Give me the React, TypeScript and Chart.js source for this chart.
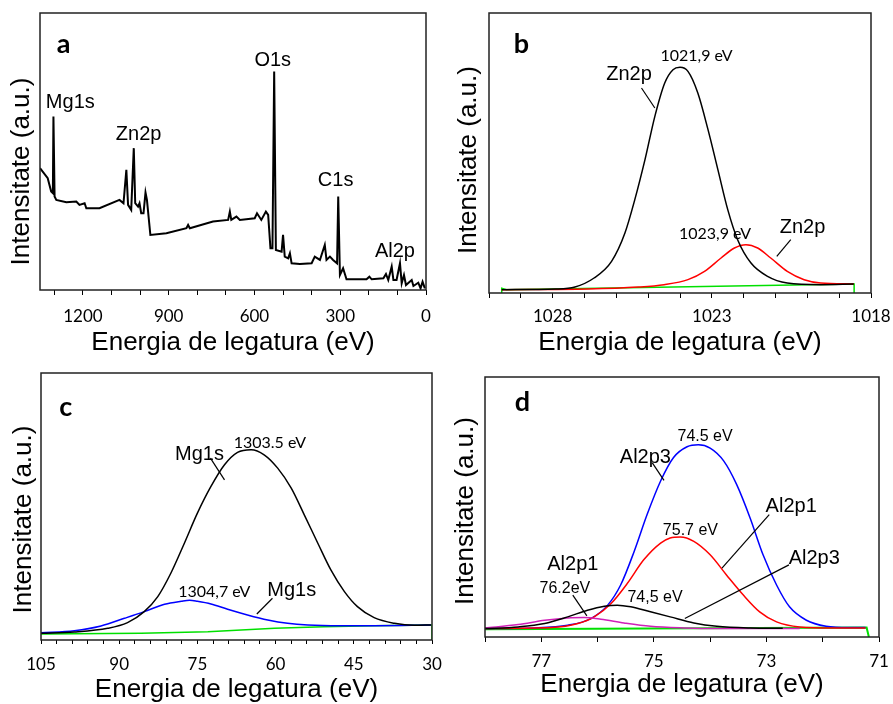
import React, { useEffect, useRef } from 'react';
import { Chart, registerables } from 'chart.js';

Chart.register(...registerables);

const SANS = '"Liberation Sans", Arial, sans-serif';
const CAL = 'Lato, "Open Sans", sans-serif';
const X_TITLE = 'Energia de legatura (eV)';
const Y_TITLE = 'Intensitate (a.u.)';

// ---------- Panel a : survey spectrum ----------
const aEnergy = [1350, 1323, 1311, 1305, 1303, 1299, 1293, 1258, 1223, 1212, 1194, 1188, 1142, 1072, 1058, 1048, 1042, 1031, 1022, 1017, 1007, 1002, 996, 988, 981, 976, 964, 908, 838, 832, 826, 745, 692, 686, 681, 663, 651, 599, 591, 576, 560, 552, 544, 537, 531, 525, 505, 500, 494, 482, 476, 470, 441, 400, 389, 371, 354, 348, 336, 325, 311, 307, 301, 290, 278, 208, 198, 190, 149, 140, 132, 120, 114, 103, 91, 85, 77, 70, 50, 44, 27, 19, 12, 4];
const aIntensity = [365, 335, 295, 290, 520, 280, 270, 263, 265, 255, 260, 245, 245, 270, 260, 360, 255, 240, 425, 260, 250, 260, 230, 230, 292, 270, 165, 170, 185, 195, 185, 205, 210, 235, 210, 220, 210, 215, 230, 210, 235, 225, 125, 125, 655, 120, 115, 165, 100, 95, 110, 80, 78, 80, 100, 90, 135, 90, 100, 90, 80, 280, 45, 65, 32, 32, 40, 32, 35, 48, 30, 70, 30, 30, 80, 20, 45, 15, 30, 12, 22, 5, 25, 5];
const aTicks = [0, 100, 200, 300, 400, 500, 600, 700, 800, 900, 1000, 1100, 1200, 1300];
const aTickLabels = [0, 300, 600, 900, 1200];

// ---------- Panel b : Zn2p ----------
const bBlackEnergy = [1029.6, 1027.9, 1027.3, 1026.7, 1026.15, 1025.73, 1025.42, 1025.1, 1024.79, 1024.48, 1024.22, 1024.0, 1023.75, 1023.44, 1023.12, 1022.81, 1022.5, 1022.19, 1021.77, 1021.25, 1020.63, 1019.58, 1018.54];
const bBlackIntensity = [10, 12, 18, 45, 95, 180, 280, 400, 530, 630, 670, 677, 665, 600, 490, 370, 250, 160, 90, 50, 30, 25, 27];
const bRedEnergy = [1029.6, 1026.9, 1025.3, 1024.5, 1023.75, 1023.23, 1022.71, 1022.29, 1021.93, 1021.56, 1021.15, 1020.63, 1020.1, 1019.58, 1018.54];
const bRedIntensity = [10, 12, 18, 25, 40, 65, 105, 135, 145, 135, 105, 65, 40, 30, 27];
const bGreenEnergy = [1029.6, 1029.6, 1029.45, 1018.53, 1018.53];
const bGreenIntensity = [0, 14, 10, 27, 0];
const bTicks = [1018, 1019, 1020, 1021, 1022, 1023, 1024, 1025, 1026, 1027, 1028, 1029, 1030];
const bTickLabels = [1018, 1023, 1028];

// ---------- Panel c : Mg1s ----------
const cBlackEnergy = [105, 98.6, 92.2, 88.4, 85.2, 82.6, 80.1, 77.5, 75.0, 72.4, 69.8, 67.3, 64.7, 62.2, 59.6, 57.0, 54.5, 51.9, 49.4, 46.8, 44.3, 41.1, 37.2, 33.4, 30.2];
const cBlackIntensity = [20, 24, 35, 52, 85, 130, 200, 290, 380, 460, 525, 562, 570, 555, 515, 455, 375, 290, 210, 145, 100, 67, 50, 44, 45];
const cBlueEnergy = [105, 98.6, 93.5, 89.0, 85.2, 81.3, 78.1, 76.5, 75.0, 72.4, 69.2, 65.4, 61.5, 57.7, 53.8, 47.5, 41.1, 30.2];
const cBlueIntensity = [22, 28, 42, 65, 85, 107, 116, 119, 116, 108, 92, 75, 60, 50, 45, 43, 43, 45];
const cGreenEnergy = [105, 85.8, 73.0, 60.2, 50.7, 41.1, 30.2, 30, 30];
const cGreenIntensity = [18, 20, 25, 35, 40, 43, 45, 45, 0];
const cTicks = [30, 33, 36, 39, 42, 45, 48, 51, 54, 57, 60, 63, 66, 69, 72, 75, 78, 81, 84, 87, 90, 93, 96, 99, 102, 105];
const cTickLabels = [30, 45, 60, 75, 90, 105];

// ---------- Panel d : Al2p ----------
const dBlueEnergy = [78, 77.12, 76.53, 76.12, 75.82, 75.59, 75.35, 75.12, 74.88, 74.65, 74.41, 74.21, 74.0, 73.76, 73.53, 73.29, 73.06, 72.82, 72.59, 72.29, 71.94, 71.53, 71.24];
const dBlueIntensity = [25, 27, 35, 55, 95, 155, 255, 365, 465, 535, 567, 573, 563, 525, 455, 355, 245, 155, 90, 50, 32, 28, 28];
const dRedEnergy = [78, 76.82, 76.35, 76.06, 75.76, 75.47, 75.18, 74.88, 74.71, 74.53, 74.29, 74.0, 73.71, 73.41, 73.12, 72.82, 72.41, 71.82, 71.24];
const dRedIntensity = [25, 28, 40, 60, 100, 160, 230, 280, 295, 298, 285, 245, 185, 125, 75, 45, 30, 27, 27];
const dBlackEnergy = [78, 77.41, 76.94, 76.53, 76.18, 75.88, 75.65, 75.41, 75.06, 74.71, 74.29, 73.88, 73.29, 72.71];
const dBlackIntensity = [25, 30, 40, 60, 80, 92, 95, 90, 75, 60, 42, 32, 27, 26];
const dMagentaEnergy = [78, 77.41, 76.94, 76.53, 76.24, 75.94, 75.53, 75.06, 74.47, 73.88, 72.41];
const dMagentaIntensity = [27, 37, 50, 57, 58, 53, 42, 32, 27, 25, 25];
const dGreenEnergy = [78, 71.22, 71.18];
const dGreenIntensity = [23, 28, 0];
const dTicks = [71, 72, 73, 74, 75, 76, 77, 78];
const dTickLabels = [71, 73, 75, 77];

type Series = { e: number[]; i: number[]; color: string; width: number; smooth: boolean };
type Label = { t: string; e: number; i: number; font: string; align?: CanvasTextAlign };
type Panel = {
  key: string;
  left: number; top: number; width: number; height: number;
  area: { l: number; t: number; r: number; b: number };
  xMin: number; xMax: number; yMax: number;
  ticks: number[]; labelled: number[];
  tickLen: number; tickPad: number; titlePad: number;
  series: Series[];
  labels: Label[];
  leaders: number[][];
  yTitle: { x: number; dy: number };
};

const EL = `20px ${SANS}`;
const EVC = `16px ${CAL}`;
const EVA = `16px ${SANS}`;
const LET = `bold 27px ${CAL}`;

const panels: Panel[] = [
  {
    key: 'a', left: 0, top: 0, width: 446, height: 360,
    area: { l: 40, t: 13, r: 426, b: 290 },
    xMin: 0, xMax: 1350, yMax: 830,
    ticks: aTicks, labelled: aTickLabels, tickLen: 5, tickPad: 11, titlePad: 4,
    series: [{ e: aEnergy, i: aIntensity, color: '#000', width: 2, smooth: false }],
    labels: [
      { t: 'a', e: 1291, i: 710, font: LET, align: 'left' },
      { t: 'Mg1s', e: 1244, i: 545, font: EL },
      { t: 'Zn2p', e: 1005, i: 450, font: EL },
      { t: 'O1s', e: 536, i: 672, font: EL },
      { t: 'C1s', e: 316, i: 313, font: EL },
      { t: 'Al2p', e: 108.6, i: 100, font: EL },
    ],
    leaders: [],
    yTitle: { x: 22, dy: 20 },
  },
  {
    key: 'b', left: 446, top: 0, width: 447, height: 360,
    area: { l: 43, t: 13, r: 425, b: 293 },
    xMin: 1018, xMax: 1030, yMax: 840,
    ticks: bTicks, labelled: bTickLabels, tickLen: 5, tickPad: 8, titlePad: 4,
    series: [
      { e: bBlackEnergy, i: bBlackIntensity, color: '#000', width: 1.5, smooth: true },
      { e: bRedEnergy, i: bRedIntensity, color: '#ff0000', width: 1.5, smooth: true },
      { e: bGreenEnergy, i: bGreenIntensity, color: '#00e000', width: 1.5, smooth: false },
    ],
    labels: [
      { t: 'b', e: 1029.22, i: 720, font: LET, align: 'left' },
      { t: '1021,9 eV', e: 1023.48, i: 695, font: EVC },
      { t: 'Zn2p', e: 1025.6, i: 640, font: EL },
      { t: '1023,9 eV', e: 1022.9, i: 163, font: EVC },
      { t: 'Zn2p', e: 1020.15, i: 180, font: EL },
    ],
    leaders: [[1025.21, 615, 1024.79, 555], [1020.52, 160, 1020.96, 110]],
    yTitle: { x: 23, dy: 7 },
  },
  {
    key: 'c', left: 0, top: 360, width: 446, height: 344,
    area: { l: 41, t: 13, r: 432, b: 280 },
    xMin: 30, xMax: 105, yMax: 800,
    ticks: cTicks, labelled: cTickLabels, tickLen: 4, tickPad: 10, titlePad: 1,
    series: [
      { e: cBlackEnergy, i: cBlackIntensity, color: '#000', width: 1.5, smooth: true },
      { e: cBlueEnergy, i: cBlueIntensity, color: '#0000ff', width: 1.5, smooth: true },
      { e: cGreenEnergy, i: cGreenIntensity, color: '#00e000', width: 1.5, smooth: false },
    ],
    labels: [
      { t: 'c', e: 101.48, i: 670, font: LET, align: 'left' },
      { t: 'Mg1s', e: 74.6, i: 538, font: EL },
      { t: '1303.5 eV', e: 61.1, i: 574, font: EVC },
      { t: '1304,7 eV', e: 71.75, i: 128, font: EVC },
      { t: 'Mg1s', e: 56.9, i: 133, font: EL },
    ],
    leaders: [[72.5, 545, 69.8, 480], [60.6, 125, 63.6, 78]],
    yTitle: { x: 24, dy: 13 },
  },
  {
    key: 'd', left: 446, top: 360, width: 447, height: 344,
    area: { l: 39, t: 17, r: 433, b: 277 },
    xMin: 71, xMax: 78, yMax: 775,
    ticks: dTicks, labelled: dTickLabels, tickLen: 5, tickPad: 9, titlePad: 6,
    series: [
      { e: dBlackEnergy, i: dBlackIntensity, color: '#000', width: 1.5, smooth: true },
      { e: dMagentaEnergy, i: dMagentaIntensity, color: '#d020b8', width: 1.5, smooth: true },
      { e: dRedEnergy, i: dRedIntensity, color: '#ff0000', width: 1.5, smooth: true },
      { e: dBlueEnergy, i: dBlueIntensity, color: '#0000ff', width: 1.5, smooth: true },
      { e: dGreenEnergy, i: dGreenIntensity, color: '#00e000', width: 2, smooth: false },
    ],
    labels: [
      { t: 'd', e: 77.47, i: 675, font: LET, align: 'left' },
      { t: '74.5 eV', e: 74.09, i: 583, font: EVA },
      { t: 'Al2p3', e: 75.15, i: 520, font: EL },
      { t: 'Al2p1', e: 72.56, i: 373, font: EL },
      { t: '75.7 eV', e: 74.35, i: 305, font: EVA },
      { t: 'Al2p3', e: 72.15, i: 218, font: EL },
      { t: 'Al2p1', e: 76.44, i: 200, font: EL },
      { t: '76.2eV', e: 76.58, i: 132, font: EVA },
      { t: '74,5 eV', e: 74.98, i: 103, font: EVA },
    ],
    leaders: [[75.03, 520, 74.82, 467], [72.95, 365, 73.79, 205], [72.6, 215, 74.45, 55], [76.44, 125, 76.19, 63]],
    yTitle: { x: 20, dy: 4 },
  },
];

function overlay(p: Panel) {
  return {
    id: 'overlay_' + p.key,
    afterDraw(chart: any) {
      const ctx = chart.ctx as CanvasRenderingContext2D;
      const a = chart.chartArea;
      const xs = chart.scales.x;
      const ys = chart.scales.y;
      ctx.save();
      // frame
      ctx.strokeStyle = '#222';
      ctx.lineWidth = 1.5;
      ctx.strokeRect(a.left, a.top, a.right - a.left, a.bottom - a.top);
      // leaders
      ctx.strokeStyle = '#000';
      ctx.lineWidth = 1.2;
      for (const [e1, i1, e2, i2] of p.leaders) {
        ctx.beginPath();
        ctx.moveTo(xs.getPixelForValue(e1), ys.getPixelForValue(i1));
        ctx.lineTo(xs.getPixelForValue(e2), ys.getPixelForValue(i2));
        ctx.stroke();
      }
      // labels
      ctx.fillStyle = '#000';
      ctx.textBaseline = 'alphabetic';
      for (const l of p.labels) {
        ctx.font = l.font;
        ctx.textAlign = l.align || 'center';
        ctx.fillText(l.t, xs.getPixelForValue(l.e), ys.getPixelForValue(l.i));
      }
      // y title
      ctx.font = `26px ${SANS}`;
      ctx.textAlign = 'center';
      ctx.textBaseline = 'middle';
      ctx.translate(p.yTitle.x, (a.top + a.bottom) / 2 + p.yTitle.dy);
      ctx.rotate(-Math.PI / 2);
      ctx.fillText(Y_TITLE, 0, 0);
      ctx.restore();
    },
  };
}

function PanelChart({ p }: { p: Panel }) {
  const ref = useRef<HTMLCanvasElement>(null);
  useEffect(() => {
    if (!ref.current) return;
    const datasets = p.series.map((s) => ({
      data: s.e.map((x, k) => ({ x, y: s.i[k] })),
      borderColor: s.color,
      borderWidth: s.width,
      pointRadius: 0,
      fill: false,
      tension: 0,
      cubicInterpolationMode: s.smooth ? 'monotone' : 'default',
    }));
    const chart = new Chart(ref.current, {
      type: 'line',
      data: { datasets } as any,
      options: {
        animation: false,
        responsive: false,
        events: [],
        layout: { padding: { left: 0, top: p.area.t, right: p.width - p.area.r, bottom: 0 } },
        plugins: { legend: { display: false }, tooltip: { enabled: false } },
        scales: {
          x: {
            type: 'linear',
            min: p.xMin,
            max: p.xMax,
            reverse: true,
            afterBuildTicks: (s: any) => { s.ticks = p.ticks.map((v) => ({ value: v })); },
            afterFit: (s: any) => { s.height = p.height - p.area.b; },
            grid: { display: true, drawOnChartArea: false, drawTicks: true, tickLength: p.tickLen, color: '#000', lineWidth: 1 },
            border: { display: false },
            ticks: {
              autoSkip: false, maxRotation: 0, minRotation: 0, padding: p.tickPad, color: '#000',
              font: { family: CAL, size: 17 },
              callback: (v: any) => (p.labelled.includes(Number(v)) ? String(v) : ''),
            },
            title: {
              display: true, text: X_TITLE, color: '#000',
              font: { family: SANS, size: 26, lineHeight: 1 },
              padding: { top: 0, bottom: p.titlePad },
            },
          },
          y: {
            min: 0,
            max: p.yMax,
            afterFit: (s: any) => { s.width = p.area.l; },
            ticks: { display: false },
            grid: { display: false },
            border: { display: false },
          },
        },
      } as any,
      plugins: [overlay(p)],
    });
    return () => chart.destroy();
  }, [p]);
  return (
    <canvas
      ref={ref}
      width={p.width}
      height={p.height}
      style={{ position: 'absolute', left: p.left, top: p.top, width: p.width, height: p.height }}
    />
  );
}

export default function App() {
  return (
    <div style={{ position: 'absolute', left: 0, top: 0, width: 893, height: 704, background: '#fff', overflow: 'hidden' }}>
      {panels.map((p) => (
        <PanelChart key={p.key} p={p} />
      ))}
    </div>
  );
}
